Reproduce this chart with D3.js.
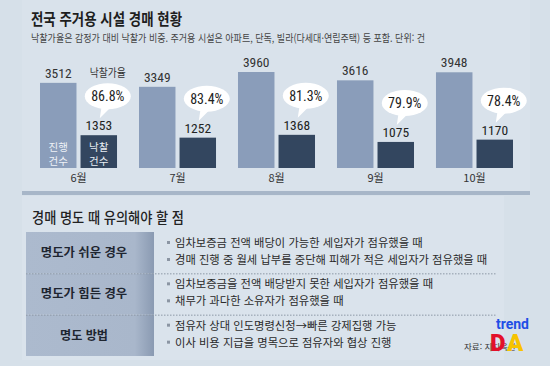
<!DOCTYPE html>
<html lang="ko">
<head>
    <meta charset="UTF-8">
    <title>전국 주거용 시설 경매 현황</title>
    <script src="https://cdnjs.cloudflare.com/ajax/libs/d3/7.8.5/d3.min.js"></script>
    <style>
    html, body {
        margin: 0;
        padding: 0;
        background: #d6e0e9;
    }
    svg {
        display: block;
        font-family: "Noto Sans CJK KR", "Noto Sans", sans-serif;
    }
    .num {
        font-family: "Liberation Sans Narrow", "Roboto Condensed", "Liberation Sans", sans-serif;
    }
</style>
</head>
<body>
    <div id="chart"></div>
    <script>
    // data
    var months = ['6월', '7월', '8월', '9월', '10월'];
    var inProgress = [3512, 3349, 3960, 3616, 3948];
    var winningBids = [1353, 1252, 1368, 1075, 1170];
    var bidRates = [86.8, 83.4, 81.3, 79.9, 78.4];

    var tableRows = ['명도가 쉬운 경우', '명도가 힘든 경우', '명도 방법'];
    var tableItems = [
        ['임차보증금 전액 배당이 가능한 세입자가 점유했을 때',
         '경매 진행 중 월세 납부를 중단해 피해가 적은 세입자가 점유했을 때'],
        ['임차보증금을 전액 배당받지 못한 세입자가 점유했을 때',
         '채무가 과다한 소유자가 점유했을 때'],
        ['점유자 상대 인도명령신청→빠른 강제집행 가능',
         '이사 비용 지급을 명목으로 점유자와 협상 진행']
    ];

    var width = 550;
    var height = 366;

    var svg = d3.select('#chart')
        .append('svg')
            .attr('width', width)
            .attr('height', height);

    // squeeze a text to the width the reference uses
    function fit(sel, len){
        sel.attr('textLength', len).attr('lengthAdjust', 'spacingAndGlyphs');
    }

    var defs = svg.append('defs');
    var grad = defs.append('linearGradient')
        .attr('id', 'cellGrad')
        .attr('x1', '0').attr('x2', '1').attr('y1', '0').attr('y2', '0');
    grad.append('stop').attr('offset', '0').attr('stop-color', '#acbace');
    grad.append('stop').attr('offset', '0.85').attr('stop-color', '#a9b7cb');
    grad.append('stop').attr('offset', '1').attr('stop-color', '#8a9ab2');

    // panels
    svg.append('rect')
        .attr('x', 22).attr('y', 0)
        .attr('width', 508).attr('height', 192)
        .attr('fill', '#d9e2eb');

    svg.append('rect')
        .attr('x', 22).attr('y', 196)
        .attr('width', 482).attr('height', 164)
        .attr('fill', '#dae3ec');

    // titles
    svg.append('text')
        .attr('x', 31).attr('y', 25)
        .attr('font-size', 16).attr('font-weight', 700)
        .attr('fill', '#1e1e1e')
        .text('전국 주거용 시설 경매 현황')
        .call(fit, 151);

    svg.append('text')
        .attr('x', 31).attr('y', 42)
        .attr('font-size', 10.5)
        .attr('fill', '#444')
        .text('낙찰가율은 감정가 대비 낙찰가 비중. 주거용 시설은 아파트, 단독, 빌라(다세대·연립주택) 등 포함. 단위: 건')
        .call(fit, 394);

    // scales
    var x0 = d3.scaleBand()
        .domain(months)
        .range([40, 513])
        .paddingInner(0.222)
        .paddingOuter(0);

    var x1 = d3.scaleBand()
        .domain(['progress', 'win'])
        .range([0, x0.bandwidth()])
        .paddingInner(0.1);

    var y = d3.scaleLinear()
        .domain([0, 3960])
        .range([168, 72]);

    var g = svg.append('g');

    var groups = g.selectAll('.group')
        .data(months)
        .enter()
        .append('g')
        .attr('class', 'group')
        .attr('transform', function(d){
            return 'translate(' + x0(d) + ',0)';
        });

    groups.append('rect')
        .attr('x', x1('progress'))
        .attr('y', function(d, i){ return y(inProgress[i]); })
        .attr('width', x1.bandwidth())
        .attr('height', function(d, i){ return y(0) - y(inProgress[i]); })
        .attr('fill', '#8a9dba');

    groups.append('rect')
        .attr('x', x1('win'))
        .attr('y', function(d, i){ return y(winningBids[i]); })
        .attr('width', x1.bandwidth())
        .attr('height', function(d, i){ return y(0) - y(winningBids[i]); })
        .attr('fill', '#33465f');

    groups.append('text')
        .attr('class', 'num')
        .attr('x', x1('progress') + x1.bandwidth() / 2)
        .attr('y', function(d, i){ return y(inProgress[i]) - 5; })
        .attr('text-anchor', 'middle')
        .attr('font-size', 13.5)
        .attr('fill', '#333')
        .text(function(d, i){ return inProgress[i]; });

    groups.append('text')
        .attr('class', 'num')
        .attr('x', x1('win') + x1.bandwidth() / 2)
        .attr('y', function(d, i){ return y(winningBids[i]) - 5; })
        .attr('text-anchor', 'middle')
        .attr('font-size', 13.5)
        .attr('fill', '#222')
        .text(function(d, i){ return winningBids[i]; });

    groups.append('text')
        .attr('x', x0.bandwidth() / 2)
        .attr('y', 182)
        .attr('text-anchor', 'middle')
        .attr('font-size', 11)
        .attr('fill', '#333')
        .text(function(d){ return d; });

    // speech bubbles
    var bubble = groups.append('g')
        .attr('transform', function(d, i){
            var cx = x1('win') + x1.bandwidth() / 2 + 9;
            var cy = y(winningBids[i]) - 39;
            return 'translate(' + cx + ',' + cy + ')';
        });

    bubble.append('path')
        .attr('d', 'M-6,9 L-8,22 L4,10 Z')
        .attr('fill', '#fff');

    bubble.append('ellipse')
        .attr('rx', 23).attr('ry', 13)
        .attr('fill', '#fff');

    bubble.append('text')
        .attr('class', 'num')
        .attr('y', 5)
        .attr('text-anchor', 'middle')
        .attr('font-size', 14)
        .attr('fill', '#222')
        .text(function(d, i){ return bidRates[i].toFixed(1) + '%'; });

    // labels for first group
    var first = g.select('.group');
    first.append('text')
        .attr('x', x1('win') + x1.bandwidth() / 2 + 9)
        .attr('y', 77)
        .attr('text-anchor', 'middle')
        .attr('font-size', 11)
        .attr('fill', '#333')
        .text('낙찰가율')
        .call(fit, 36);

    [['진행', '건수', 'progress'], ['낙찰', '건수', 'win']].forEach(function(l){
        var t = first.append('text')
            .attr('x', x1(l[2]) + x1.bandwidth() / 2)
            .attr('y', 151)
            .attr('text-anchor', 'middle')
            .attr('font-size', 10.5)
            .attr('fill', l[2] === 'win' ? '#e8edf3' : '#eef2f7');
        t.append('tspan').text(l[0]);
        t.append('tspan')
            .attr('x', x1(l[2]) + x1.bandwidth() / 2)
            .attr('dy', 14)
            .text(l[1]);
    });

    // separator
    svg.append('rect')
        .attr('x', 22).attr('y', 191)
        .attr('width', 508).attr('height', 4)
        .attr('fill', '#a7b6c8');

    // section 2
    svg.append('text')
        .attr('x', 32).attr('y', 223)
        .attr('font-size', 14.5).attr('font-weight', 500)
        .attr('fill', '#222')
        .text('경매 명도 때 유의해야 할 점')
        .call(fit, 152);

    var rowY = d3.scaleBand()
        .domain(tableRows)
        .range([232, 356]);

    var rows = svg.selectAll('.row')
        .data(tableRows)
        .enter()
        .append('g')
        .attr('class', 'row')
        .attr('transform', function(d){
            return 'translate(0,' + rowY(d) + ')';
        });

    rows.append('rect')
        .attr('x', 26).attr('y', 0)
        .attr('width', 128).attr('height', rowY.bandwidth())
        .attr('fill', 'url(#cellGrad)');

    rows.append('text')
        .attr('x', 84)
        .attr('y', rowY.bandwidth() / 2 + 4.5)
        .attr('text-anchor', 'middle')
        .attr('font-size', 12.5).attr('font-weight', 700)
        .attr('fill', '#1e2530')
        .text(function(d){ return d; })
        .each(function(d){
            d3.select(this).call(fit, d.length * 9.6);
        });

    rows.filter(function(d, i){ return i > 0; })
        .append('line')
        .attr('x1', 26).attr('x2', 497)
        .attr('y1', 0.5).attr('y2', 0.5)
        .attr('stroke', '#8d98a6')
        .attr('stroke-width', 1)
        .attr('stroke-dasharray', '1.5,1.5');

    rows.each(function(d, i){
        var row = d3.select(this);
        tableItems[i].forEach(function(item, j){
            var ty = 15 + j * 17;
            row.append('rect')
                .attr('x', 167).attr('y', ty - 6)
                .attr('width', 3).attr('height', 3)
                .attr('fill', '#8b95a3');
            row.append('text')
                .attr('x', 175)
                .attr('y', ty)
                .attr('font-size', 11.3)
                .attr('fill', '#2a2a2a')
                .text(item);
        });
    });

    // source
    svg.append('text')
        .attr('x', 464).attr('y', 350)
        .attr('font-size', 8.5)
        .attr('fill', '#333')
        .text('자료: 지지옥션');

    // watermark
    svg.append('text')
        .attr('x', 529).attr('y', 329)
        .attr('text-anchor', 'end')
        .attr('font-family', 'Roboto, sans-serif')
        .attr('font-size', 14).attr('font-weight', 700)
        .attr('fill', '#1f4ee6')
        .text('trend');

    svg.append('text')
        .attr('x', 490).attr('y', 351)
        .attr('font-family', 'Roboto, sans-serif')
        .attr('font-size', 24).attr('font-weight', 900)
        .attr('fill', '#e3102a')
        .text('D');

    svg.append('text')
        .attr('x', 507).attr('y', 351)
        .attr('font-family', 'Roboto, sans-serif')
        .attr('font-size', 24).attr('font-weight', 900)
        .attr('fill', '#f7c300')
        .text('A');
    </script>
</body>
</html>
